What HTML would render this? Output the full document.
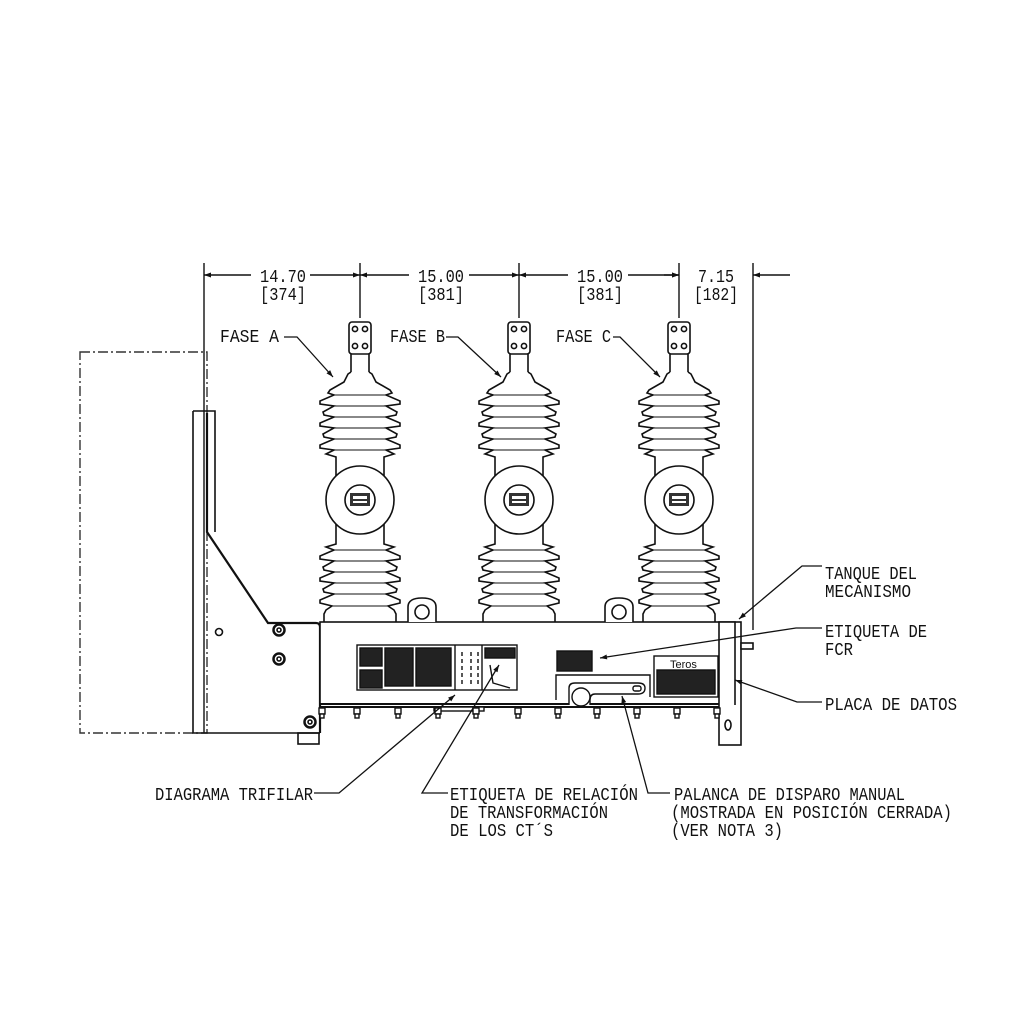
<!DOCTYPE html>
<html><head><meta charset="utf-8"><style>
html,body{margin:0;padding:0;background:#fff;}
svg{display:block;}
text{font-family:"Liberation Mono",monospace;font-size:18px;fill:#111;}
</style></head><body>
<svg width="1024" height="1024" viewBox="0 0 1024 1024" xmlns="http://www.w3.org/2000/svg">
<defs>
<marker id="ar" viewBox="0 0 10 10" refX="10" refY="5" markerWidth="10" markerHeight="7" orient="auto-start-reverse" markerUnits="userSpaceOnUse"><path d="M0,1.5 L10,5 L0,8.5z" fill="#111"/></marker>
<g id="bolt"><rect x="-3" y="708" width="6" height="6"/><rect x="-2" y="714" width="4" height="4"/></g>
<g id="ins" fill="none" stroke="#111" stroke-width="1.6">
  <rect x="-11" y="322" width="22" height="32" rx="3"/>
  <circle cx="-5" cy="329" r="2.6"/><circle cx="5" cy="329" r="2.6"/>
  <circle cx="-5" cy="346" r="2.6"/><circle cx="5" cy="346" r="2.6"/>
  <path d="M-9,354 V372 M9,354 V372"/>
  <path id="half" d="M9,372 L12,374 L16,382 L30,390 L32,393 L26,395 L40,401 L40,404 L26,406 L37,412 L36,415 L26,417 L40,423 L40,426 L26,428 L37,434 L36,437 L26,439 L40,445 L40,448 L26,450 L34,454 L24,457 L24,544 L34,547 L26,550 L40,556 L40,559 L26,561 L37,567 L36,570 L26,572 L40,578 L40,581 L26,583 L37,589 L36,592 L26,594 L40,600 L40,603 L28,606 L34,610 L36,614 L36,622"/>
  <use href="#half" transform="scale(-1,1)"/>
  <path d="M-26,395 H26 M-26,406 H26 M-26,417 H26 M-26,428 H26 M-26,439 H26 M-26,450 H26 M-26,550 H26 M-26,561 H26 M-26,572 H26 M-26,583 H26 M-26,594 H26 M-28,606 H28" stroke-width="1"/>
  <circle cx="0" cy="500" r="34" fill="#fff"/>
  <circle cx="0" cy="500" r="15"/>
  <rect x="-10" y="493" width="20" height="13" fill="#333" stroke="none"/>
  <rect x="-7" y="496" width="14" height="3" fill="#fff" stroke="none"/>
  <rect x="-7" y="501" width="14" height="2" fill="#fff" stroke="none"/>
</g>
</defs>

<g stroke="#111" stroke-width="1.4" fill="none">
  <path d="M204,263 V733 M360,263 V318 M519,263 V318 M679,263 V318 M753,263 V630"/>
  <path d="M251,275 H204" marker-end="url(#ar)"/>
  <path d="M310,275 H360" marker-end="url(#ar)"/>
  <path d="M409,275 H360" marker-end="url(#ar)"/>
  <path d="M469,275 H519" marker-end="url(#ar)"/>
  <path d="M568,275 H519" marker-end="url(#ar)"/>
  <path d="M628,275 H679" marker-end="url(#ar)"/>
  <path d="M664,275 H679" marker-end="url(#ar)"/>
  <path d="M790,275 H753" marker-end="url(#ar)"/>
</g>
<text lengthAdjust="spacingAndGlyphs" x="260" y="282" textLength="46">14.70</text>
<text lengthAdjust="spacingAndGlyphs" x="260" y="300" textLength="46">[374]</text>
<text lengthAdjust="spacingAndGlyphs" x="418" y="282" textLength="46">15.00</text>
<text lengthAdjust="spacingAndGlyphs" x="418" y="300" textLength="46">[381]</text>
<text lengthAdjust="spacingAndGlyphs" x="577" y="282" textLength="46">15.00</text>
<text lengthAdjust="spacingAndGlyphs" x="577" y="300" textLength="46">[381]</text>
<text lengthAdjust="spacingAndGlyphs" x="698" y="282" textLength="36">7.15</text>
<text lengthAdjust="spacingAndGlyphs" x="694" y="300" textLength="44">[182]</text>

<rect x="80" y="352" width="127" height="381" fill="none" stroke="#333" stroke-width="1.4" stroke-dasharray="10,3,2,3"/>

<g stroke="#111" stroke-width="1.6" fill="none">
  <path d="M193,411 H215 V532"/>
  <path d="M193,411 V733 H320"/>
  <path d="M207,413 V532 L268,623 H316 Q320,623 320,627 V733" stroke-width="2.2"/>
  <circle cx="219" cy="632" r="3.5"/>
  <circle cx="279" cy="630" r="5.5" stroke-width="2.5"/><circle cx="279" cy="630" r="2"/>
  <circle cx="279" cy="659" r="5.5" stroke-width="2.5"/><circle cx="279" cy="659" r="2"/>
  <circle cx="310" cy="722" r="5.5" stroke-width="2.5"/><circle cx="310" cy="722" r="2"/>
  <rect x="298" y="733" width="21" height="11"/>
</g>

<g stroke="#111" stroke-width="1.6" fill="#fff">
  <rect x="320" y="622" width="415" height="82"/>
  <path d="M320,704 H735 M320,707 H735" fill="none" stroke-width="2"/>
  <path d="M408,622 V607 Q408,598 422,598 Q436,598 436,607 V622"/>
  <circle cx="422" cy="612" r="7"/>
  <path d="M605,622 V607 Q605,598 619,598 Q633,598 633,607 V622"/>
  <circle cx="619" cy="612" r="7"/>
  <rect x="719" y="622" width="22" height="123"/>
  <ellipse cx="728" cy="725" rx="3" ry="5"/>
  <rect x="741" y="643" width="12" height="6"/>
  <path d="M735,622 V705" fill="none"/>
</g>
<g fill="#fff" stroke="#111" stroke-width="1.4">
  <rect x="434" y="707" width="50" height="4"/>
  <use href="#bolt" x="322"/><use href="#bolt" x="357"/><use href="#bolt" x="398"/><use href="#bolt" x="438"/>
  <use href="#bolt" x="476"/><use href="#bolt" x="518"/><use href="#bolt" x="558"/><use href="#bolt" x="597"/>
  <use href="#bolt" x="637"/><use href="#bolt" x="677"/><use href="#bolt" x="717"/>
</g>

<use href="#ins" x="360"/>
<use href="#ins" x="519"/>
<use href="#ins" x="679"/>

<g stroke="#111" stroke-width="1.4">
  <rect x="357" y="645" width="160" height="45" fill="#fff"/>
  <rect x="360" y="648" width="22" height="18" fill="#222"/>
  <rect x="360" y="670" width="22" height="18" fill="#222"/>
  <rect x="385" y="648" width="28" height="38" fill="#222"/>
  <rect x="416" y="648" width="35" height="38" fill="#222"/>
  <path d="M455,645 V690 M482,645 V690" fill="none"/>
  <path d="M462,652 V684 M471,652 V684 M478,652 V684" stroke-dasharray="4,3" fill="none"/>
  <rect x="485" y="648" width="30" height="10" fill="#222"/>
  <path d="M490,665 L493,683 L510,688" fill="none"/>
  <rect x="557" y="651" width="35" height="20" fill="#222"/>
  <path d="M556,700 V675 H650 V697" fill="none"/>
  <path d="M569,705 V688 Q569,683 575,683 H638 Q645,683 645,688 Q645,694 638,694 H595 Q590,694 590,700 V705" fill="#fff"/>
  <circle cx="581" cy="697" r="9" fill="#fff"/>
  <rect x="633" y="686" width="8" height="5" rx="2" fill="none"/>
  <rect x="654" y="656" width="64" height="41" fill="#fff"/>
  <rect x="657" y="670" width="58" height="24" fill="#222"/>
</g>
<text x="670" y="668" style="font-family:'Liberation Sans',sans-serif;font-size:11px">Teros</text>

<g stroke="#111" stroke-width="1.3" fill="none">
  <path d="M284,337 H297 L333,377" marker-end="url(#ar)"/>
  <path d="M446,337 H458 L501,377" marker-end="url(#ar)"/>
  <path d="M613,337 H620 L660,377" marker-end="url(#ar)"/>
  <path d="M822,566 H802 L739,619" marker-end="url(#ar)"/>
  <path d="M822,628 H796 L600,658" marker-end="url(#ar)"/>
  <path d="M822,702 H797 L735,680" marker-end="url(#ar)"/>
  <path d="M314,793 H339 L455,695" marker-end="url(#ar)"/>
  <path d="M448,793 H422 L499,665" marker-end="url(#ar)"/>
  <path d="M670,793 H648 L622,696" marker-end="url(#ar)"/>
</g>

<text lengthAdjust="spacingAndGlyphs" x="220" y="342" textLength="59">FASE A</text>
<text lengthAdjust="spacingAndGlyphs" x="390" y="342" textLength="55">FASE B</text>
<text lengthAdjust="spacingAndGlyphs" x="556" y="342" textLength="55">FASE C</text>
<text lengthAdjust="spacingAndGlyphs" x="825" y="579" textLength="92">TANQUE DEL</text>
<text lengthAdjust="spacingAndGlyphs" x="825" y="597" textLength="86">MECANISMO</text>
<text lengthAdjust="spacingAndGlyphs" x="825" y="637" textLength="102">ETIQUETA DE</text>
<text lengthAdjust="spacingAndGlyphs" x="825" y="655" textLength="28">FCR</text>
<text lengthAdjust="spacingAndGlyphs" x="825" y="710" textLength="132">PLACA DE DATOS</text>
<text lengthAdjust="spacingAndGlyphs" x="155" y="800" textLength="158">DIAGRAMA TRIFILAR</text>
<text lengthAdjust="spacingAndGlyphs" x="450" y="800" textLength="188">ETIQUETA DE RELACIÓN</text>
<text lengthAdjust="spacingAndGlyphs" x="450" y="818" textLength="158">DE TRANSFORMACIÓN</text>
<text lengthAdjust="spacingAndGlyphs" x="450" y="836" textLength="103">DE LOS CT´S</text>
<text lengthAdjust="spacingAndGlyphs" x="674" y="800" textLength="231">PALANCA DE DISPARO MANUAL</text>
<text lengthAdjust="spacingAndGlyphs" x="671" y="818" textLength="281">(MOSTRADA EN POSICIÓN CERRADA)</text>
<text lengthAdjust="spacingAndGlyphs" x="671" y="836" textLength="112">(VER NOTA 3)</text>
</svg>
</body></html>
